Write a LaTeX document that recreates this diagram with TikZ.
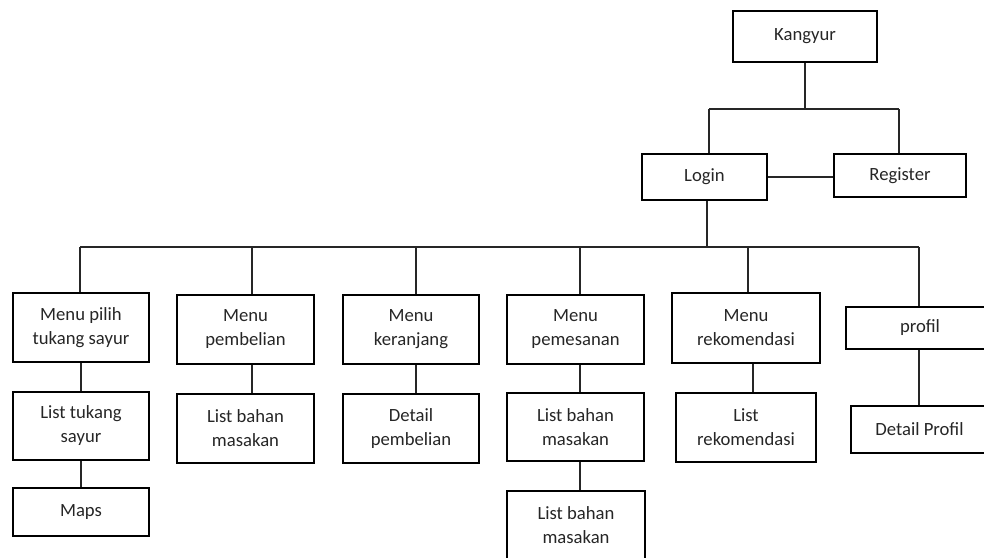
\documentclass[tikz,border=0pt]{standalone}
\usepackage{fontspec}
\setmainfont{Carlito}
\begin{document}
\begin{tikzpicture}[x=0.75pt,y=-0.75pt,
  box/.style={draw=black,line width=1.3pt,inner sep=0pt,align=center,
    font=\fontsize{14}{18}\selectfont,text=black!85},
  sz/.style 2 args={minimum width=#1*0.75pt,minimum height=#2*0.75pt},
  ln/.style={draw=black!85,line width=0.8pt}]
\useasboundingbox (0,0) rectangle (984,557);
\clip (0,0) rectangle (984,557);
% top
\node[box,sz={144}{51}] (k) at (805,36.5) {Kangyur};
\node[box,sz={125}{46}] (login) at (704.5,177) {Login};
\node[box,sz={132}{43}] (reg) at (900,175.5) {Register};
% row 1
\node[box,sz={136}{69}] (m1) at (81,327.5) {Menu pilih\\tukang sayur};
\node[box,sz={137}{69}] (m2) at (245.5,329.5) {Menu\\pembelian};
\node[box,sz={136}{69}] (m3) at (411,329.5) {Menu\\keranjang};
\node[box,sz={137}{69}] (m4) at (575.5,329.5) {Menu\\pemesanan};
\node[box,sz={148}{70}] (m5) at (746,328) {Menu\\rekomendasi};
\node[box,sz={148}{42}] (m6) at (920,328) {profil};
% row 2
\node[box,sz={136}{68}] (l1) at (81,426) {List tukang\\sayur};
\node[box,sz={137}{69}] (l2) at (245.5,428.5) {List bahan\\masakan};
\node[box,sz={136}{69}] (l3) at (411,428.5) {Detail\\pembelian};
\node[box,sz={137}{68}] (l4) at (575.5,427) {List bahan\\masakan};
\node[box,sz={140}{69}] (l5) at (746,427.5) {List\\rekomendasi};
\node[box,sz={137}{47}] (l6) at (919.5,429.5) {Detail Profil};
% row 3
\node[box,sz={136}{48}] (n1) at (81,512) {Maps};
\node[box,sz={138}{69},anchor=north] (n4) at (576,490) {List bahan\\masakan};
% connectors top
\coordinate (hL) at (709,109);
\coordinate (hR) at (899,109);
\draw[ln] (k.south) -- (k.south |- hL);
\draw[ln] (hL) -- (hR);
\draw[ln] (hL) -- (hL |- login.north);
\draw[ln] (hR) -- (hR |- reg.north);
\draw[ln] (login.east) -- (login.east -| reg.west);
\coordinate (b0) at (707,247);
\draw[ln] (login.south -| b0) -- (b0);
% bus
\coordinate (d1) at (80,247);
\coordinate (d2) at (252,247);
\coordinate (d3) at (416,247);
\coordinate (d4) at (580,247);
\coordinate (d5) at (748,247);
\coordinate (d6) at (919,247);
\draw[ln] (d1) -- (d6);
\draw[ln] (d1) -- (d1 |- m1.north);
\draw[ln] (d2) -- (d2 |- m2.north);
\draw[ln] (d3) -- (d3 |- m3.north);
\draw[ln] (d4) -- (d4 |- m4.north);
\draw[ln] (d5) -- (d5 |- m5.north);
\draw[ln] (d6) -- (d6 |- m6.north);
% children
\coordinate (e5) at (753,0);
\draw[ln] (m1.south) -- (l1.north);
\draw[ln] (l1.south) -- (n1.north);
\draw[ln] (d2 |- m2.south) -- (d2 |- l2.north);
\draw[ln] (d3 |- m3.south) -- (d3 |- l3.north);
\draw[ln] (d4 |- m4.south) -- (d4 |- l4.north);
\draw[ln] (d4 |- l4.south) -- (d4 |- n4.north);
\draw[ln] (e5 |- m5.south) -- (e5 |- l5.north);
\draw[ln] (d6 |- m6.south) -- (d6 |- l6.north);
\end{tikzpicture}
\end{document}
